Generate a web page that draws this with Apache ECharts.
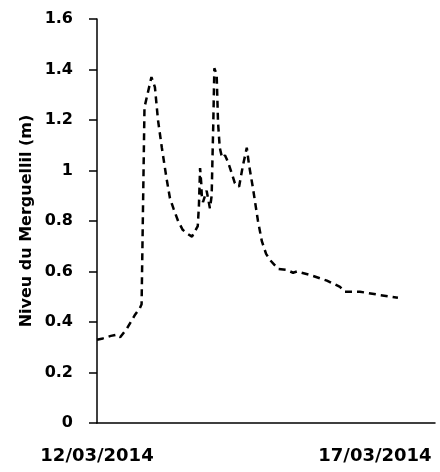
<!DOCTYPE html>
<html>
<head>
<meta charset="utf-8">
<script src="https://cdn.jsdelivr.net/npm/echarts@6/dist/echarts.min.js"></script>
<style>html,body{margin:0;padding:0;background:#fff}#c{width:440px;height:472px}</style>
</head>
<body>
<div id="c"></div>
<script>
const times = [
'2014-03-12 00:00','2014-03-12 02:30','2014-03-12 06:00','2014-03-12 08:30','2014-03-12 10:00',
'2014-03-12 13:00','2014-03-12 16:30','2014-03-12 18:30','2014-03-12 19:15','2014-03-12 20:30',
'2014-03-12 22:00','2014-03-12 23:30','2014-03-13 01:00','2014-03-13 02:20','2014-03-13 04:00',
'2014-03-13 06:00','2014-03-13 07:30','2014-03-13 09:00','2014-03-13 11:00','2014-03-13 13:00',
'2014-03-13 15:00','2014-03-13 17:00','2014-03-13 19:30','2014-03-13 20:00','2014-03-13 20:30',
'2014-03-13 21:00','2014-03-13 21:15','2014-03-13 21:45','2014-03-13 23:20','2014-03-14 00:45',
'2014-03-14 01:30','2014-03-14 01:50','2014-03-14 02:10','2014-03-14 02:40','2014-03-14 03:40',
'2014-03-14 04:15','2014-03-14 05:00','2014-03-14 06:00','2014-03-14 07:15','2014-03-14 08:30',
'2014-03-14 10:20','2014-03-14 11:30','2014-03-14 13:20','2014-03-14 15:00','2014-03-14 16:40',
'2014-03-14 17:40','2014-03-14 19:20','2014-03-14 21:30','2014-03-14 23:10','2014-03-15 01:00',
'2014-03-15 02:45','2014-03-15 06:10','2014-03-15 10:00','2014-03-15 12:40','2014-03-15 14:20',
'2014-03-15 20:00','2014-03-16 03:15','2014-03-16 08:55','2014-03-16 11:00','2014-03-16 17:30',
'2014-03-17 01:20','2014-03-17 09:55'
];
const levels = [
0.33,0.335,0.345,0.35,0.34,
0.375,0.43,0.455,0.47,1.25,
1.31,1.37,1.33,1.20,1.09,
0.97,0.89,0.85,0.80,0.765,
0.75,0.738,0.78,0.86,1.01,
0.95,0.90,0.875,0.92,0.85,
0.90,1.04,1.17,1.405,1.38,
1.19,1.09,1.05,1.06,1.035,
0.985,0.95,0.936,1.02,1.09,
1.02,0.93,0.80,0.72,0.67,
0.645,0.61,0.606,0.595,0.60,
0.586,0.564,0.539,0.52,0.52,
0.508,0.496
];
const xTickLabels = ['12/03/2014','17/03/2014'];
const yTicks = [0,0.2,0.4,0.6,0.8,1,1.2,1.4,1.6];
const startTime = '2014-03-12 00:00';
const axisEndDays = 6.08;

function toMs(s){
  const [d,t] = s.split(' ');
  const [Y,M,D] = d.split('-').map(Number);
  const [h,m] = t.split(':').map(Number);
  return Date.UTC(Y,M-1,D,h,m);
}
const t0 = toMs(startTime);
const data = times.map((s,i)=>[(toMs(s)-t0)/86400000, levels[i]]);

const font = '"DejaVu Sans"';
const chart = echarts.init(document.getElementById('c'));
chart.setOption({
  animation:false,
  grid:{left:97,right:5,top:19,bottom:49,containLabel:false},
  xAxis:{
    type:'value',min:0,max:axisEndDays,interval:5,
    axisLine:{lineStyle:{color:'#000',width:1.5}},
    axisTick:{show:false},
    splitLine:{show:false},
    axisLabel:{
      margin:24,color:'#000',fontFamily:font,fontWeight:'bold',fontSize:18,
      formatter:v=>{const i=Math.round(v/5);return (Math.abs(v-i*5)<1e-6 && xTickLabels[i])?xTickLabels[i]:'';}
    }
  },
  yAxis:{
    type:'value',min:0,max:1.6,interval:0.2,
    name:'Niveu du Merguellil (m)',nameLocation:'middle',nameGap:62,
    nameMoveOverlap:false,
    nameTextStyle:{color:'#000',fontFamily:font,fontWeight:'bold',fontSize:16},
    axisLine:{show:true,lineStyle:{color:'#000',width:1.5}},
    axisTick:{show:true,length:8,lineStyle:{color:'#000',width:1.5}},
    splitLine:{show:false},
    axisLabel:{
      margin:24,color:'#000',fontFamily:font,fontWeight:'bold',fontSize:16,
      formatter:v=>{const k=yTicks.find(t=>Math.abs(t-v)<1e-6);return k===undefined?'':String(k);}
    }
  },
  series:[{
    type:'line',data:data,showSymbol:false,symbol:'none',
    lineStyle:{color:'#000',width:2.5,type:[7,5]}
  }]
});
</script>
</body>
</html>
